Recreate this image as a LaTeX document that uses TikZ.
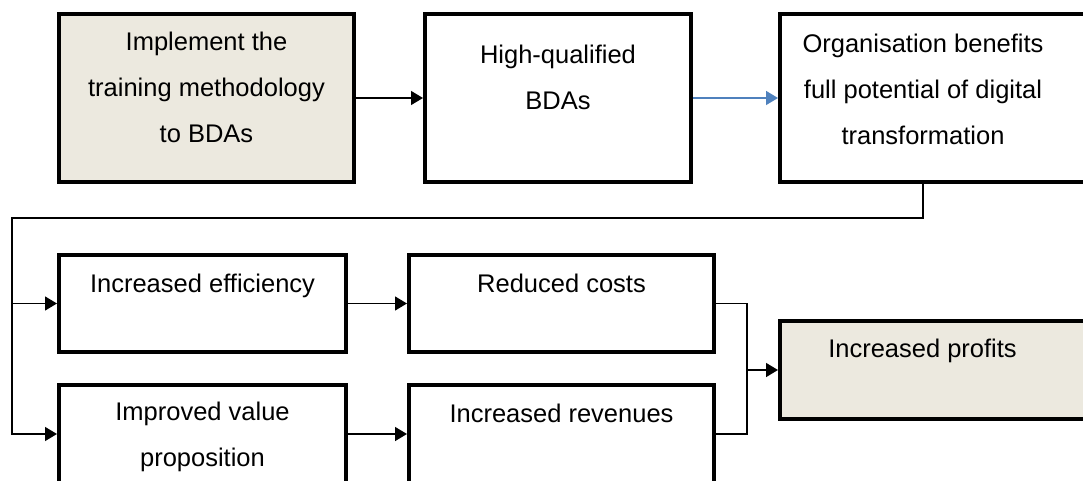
\documentclass[tikz,border=0pt]{standalone}
\usepackage{fontspec}
\setmainfont{Liberation Sans}
\usetikzlibrary{arrows.meta}
\definecolor{beige}{RGB}{236,233,223}
\definecolor{arrblue}{RGB}{79,129,189}
\begin{document}
\begin{tikzpicture}[x=1pt,y=-1pt,
  box/.style={draw=black, line width=4pt, rectangle, inner sep=0pt, fill=white},
  shaded/.style={box, fill=beige},
  txt/.style={align=center, anchor=north, inner sep=0pt, font=\fontsize{25.5}{46}\selectfont},
  conn/.style={draw=black, line width=1.5pt},
  arr/.style={conn, -{Triangle[length=12pt,width=14pt]}},
  bluearr/.style={draw=arrblue, line width=1.5pt, -{Triangle[length=12pt,width=14pt]}}
]
\clip (0,0) rectangle (1083,481);
\fill[white] (0,0) rectangle (1083,481);
% boxes
\node[shaded, minimum width=295pt, minimum height=168pt] (b1) at (206.5,98) {};
\node[box, minimum width=266pt, minimum height=168pt] (b2) at (558,98) {};
\node[box, minimum width=310pt, minimum height=168pt] (b3) at (935,98) {};
\node[box, minimum width=287pt, minimum height=97pt] (b4) at (202.5,303.5) {};
\node[box, minimum width=305pt, minimum height=97pt] (b5) at (561.5,303.5) {};
\node[box, minimum width=287pt, minimum height=98pt] (b6) at (202.5,434) {};
\node[box, minimum width=305pt, minimum height=98pt] (b7) at (561.5,434) {};
\node[shaded, minimum width=310pt, minimum height=98pt] (b8) at (935,370) {};
% texts
\node[txt] (t1) at (206.5,32) {Implement the\\training methodology\\to BDAs};
\node[txt] (t2) at (558,45) {High-qualified\\BDAs};
\node[txt] (t3) at (923,34) {Organisation benefits\\full potential of digital\\transformation};
\node[txt] (t4) at (202.5,274) {Increased efficiency};
\node[txt] (t5) at (561.5,274) {Reduced costs};
\node[txt] (t6) at (202.5,402) {Improved value\\proposition};
\node[txt] (t7) at (561.5,404) {Increased revenues};
\node[txt] (t8) at (922.5,339) {Increased profits};
% connectors
\draw[arr] (b1.east) -- (b2.west);
\draw[bluearr] (b2.east) -- (b3.west);
\coordinate (fbL) at (12,218);
\draw[arr] (t3 |- b3.south) |- (fbL) |- (b4.west);
\draw[arr] (fbL) |- (b6.west);
\draw[arr] (b4.east) -- (b5.west);
\draw[arr] (b6.east) -- (b7.west);
\coordinate (jx) at (747,368);
\draw[conn] (b5.east) -| (jx) |- (b7.east);
\draw[arr] (jx |- b8.west) -- (b8.west);
\end{tikzpicture}
\end{document}
